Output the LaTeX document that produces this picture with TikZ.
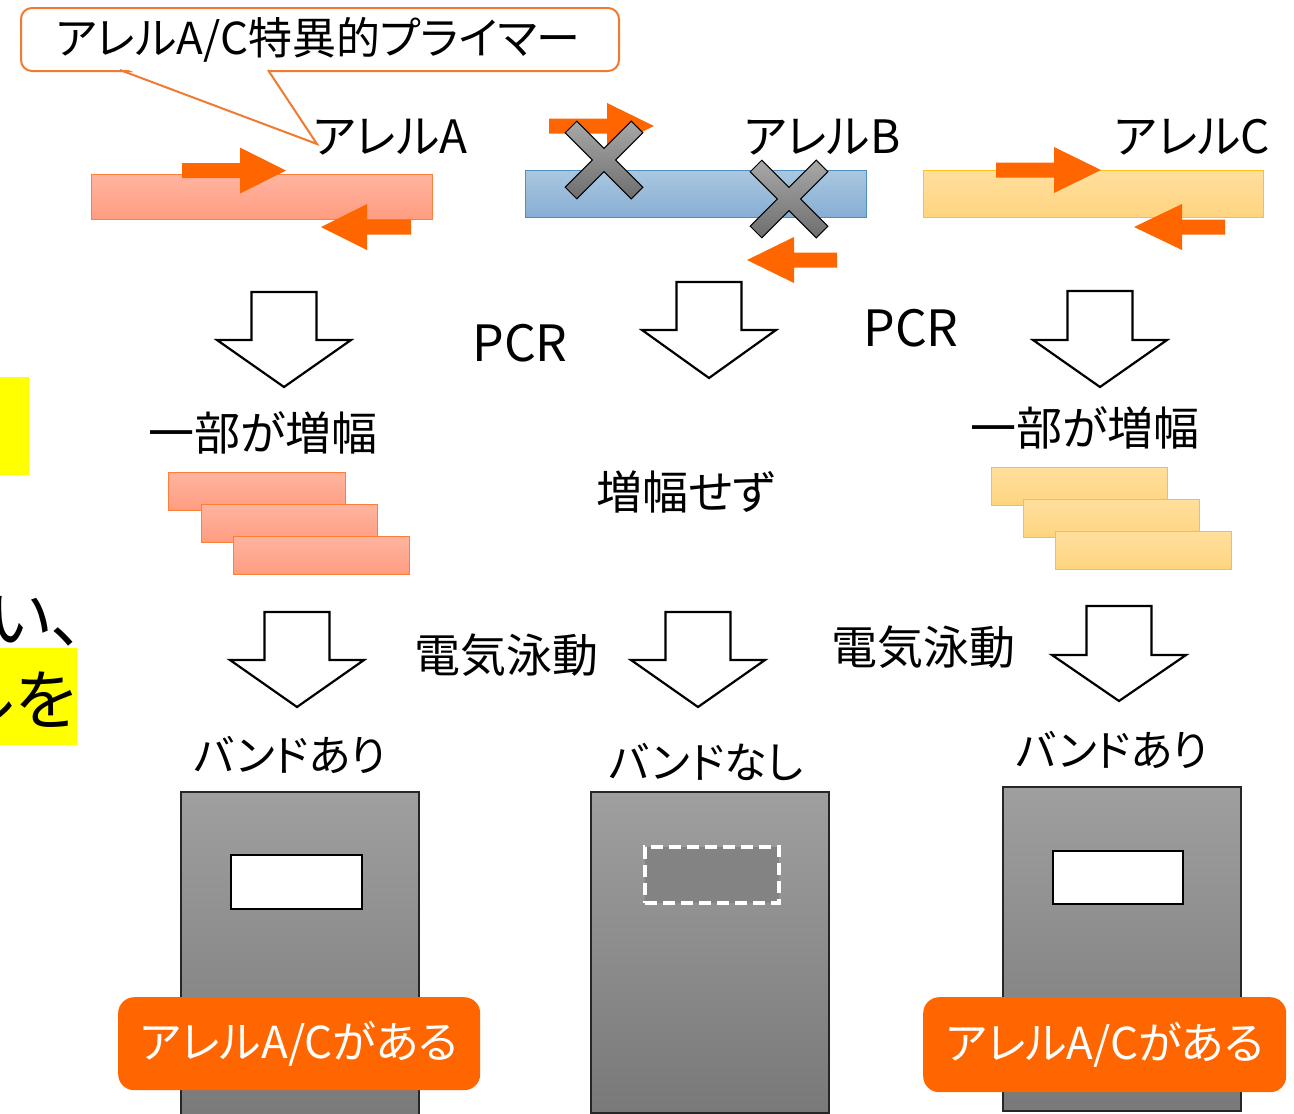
\documentclass[tikz,border=0pt]{standalone}
\usepackage{fontspec}
\setmainfont{Noto Sans CJK JP}[RawFeature={+palt}]
\usetikzlibrary{calc}
\definecolor{primer}{HTML}{FF6600}
\definecolor{calloutBorder}{HTML}{F07A30}
\definecolor{aTop}{HTML}{FFB4A0}
\definecolor{aBot}{HTML}{FF9C80}
\definecolor{aBorder}{HTML}{FF7E3A}
\definecolor{bTop}{HTML}{AAC7E0}
\definecolor{bBot}{HTML}{86AED3}
\definecolor{bBorder}{HTML}{4F8DC2}
\definecolor{cTop}{HTML}{FFDF9E}
\definecolor{cBot}{HTML}{FFD47F}
\definecolor{cBorder}{HTML}{FFC21A}
\definecolor{xTop}{HTML}{A8A8A8}
\definecolor{xBot}{HTML}{6E6E6E}
\definecolor{gelTop}{HTML}{9F9F9F}
\definecolor{gelBot}{HTML}{797979}
\definecolor{nobandFill}{HTML}{838383}
\definecolor{hilite}{HTML}{FFFF00}
\newcommand{\boxnode}[6]{\node[#1, inner sep=0pt, minimum width=#4, minimum height=#5, anchor=north west] (#6) at (#2,#3) {};}
\newcommand{\primerarrow}[4]{\fill[primer] (#1,{#4-7.5}) -- (#2,{#4-7.5}) -- (#2,{#4-23}) -- (#3,#4) -- (#2,{#4+23}) -- (#2,{#4+7.5}) -- (#1,{#4+7.5}) -- cycle;}
\newcommand{\hollowarrow}[4]{\draw[hollow] ({#1-32.5},#2) -- ({#1+32.5},#2) -- ({#1+32.5},#3) -- ({#1+67},#3) -- (#1,#4) -- ({#1-67},#3) -- ({#1-32.5},#3) -- cycle;}
\newcommand{\crossmark}[2]{\begin{scope}[shift={(#1,#2)}, rotate=45]
\draw[xfill] (46.7,8.25) -- (8.25,8.25) -- (8.25,46.7) -- (-8.25,46.7) -- (-8.25,8.25) -- (-46.7,8.25) -- (-46.7,-8.25) -- (-8.25,-8.25) -- (-8.25,-46.7) -- (8.25,-46.7) -- (8.25,-8.25) -- (46.7,-8.25) -- cycle;
\end{scope}}
\begin{document}
\begin{tikzpicture}[x=1pt,y=-1pt,
  lbl/.style={inner sep=0pt, font=\fontsize{46}{52}\selectfont},
  bandlbl/.style={inner sep=0pt, font=\fontsize{43}{50}\selectfont},
  pcrlbl/.style={inner sep=0pt, font=\fontsize{50}{56}\selectfont},
  big/.style={inner sep=0pt, font=\fontsize{66}{72}\selectfont},
  allA/.style={draw=aBorder, line width=1.3, top color=aTop, bottom color=aBot},
  allB/.style={draw=bBorder, line width=1.3, top color=bTop, bottom color=bBot},
  allC/.style={draw=cBorder, line width=1.3, top color=cTop, bottom color=cBot},
  hollow/.style={draw=black, line width=2.2, fill=white, line join=miter},
  xfill/.style={draw=black, line width=1, top color=xTop, bottom color=xBot},
  gel/.style={draw=black!85, line width=1.5, top color=gelTop, bottom color=gelBot},
  band/.style={draw=black, line width=2.2, fill=white},
  noband/.style={draw=white, line width=4, dash pattern=on 12 off 6, fill=nobandFill},
  result/.style={fill=primer, rounded corners=16},
  resulttext/.style={inner sep=0pt, text=white, font=\fontsize{44}{50}\selectfont},
  callout/.style={draw=calloutBorder, line width=2, fill=white, rounded corners=11},
  hl/.style={fill=hilite}
]
\useasboundingbox (0,0) rectangle (1294,1114);

% left edge fragments (cut off by the page edge, as in the reference)
\fill[hl] (0,377) rectangle (29,475);
\fill[hl] (0,648) rectangle (77,745);
\begin{scope}
\clip (0,0) rectangle (1294,1114);
\node[big, anchor=east] (frag1) at (84,621) {い、};
\node[big, anchor=east] (frag2) at (76,700) {ルを};
\end{scope}

% callout
\boxnode{callout}{20}{7}{598}{63}{call}
\coordinate (pl) at (120,70);
\coordinate (pr) at (268,70);
\coordinate (ptip) at (317,144);
\fill[white] (121,67) -- (267,67) -- (ptip) -- cycle;
\draw[calloutBorder, line width=2, line join=miter] (pl) -- (ptip) -- (pr);
\node[inner sep=0pt, font=\fontsize{44}{50}\selectfont] (calltext) at (318,40) {アレルA/C特異的プライマー};

% alleles
\boxnode{allA}{91}{174}{341}{45}{barA}
\boxnode{allB}{525}{170}{341}{47}{barB}
\boxnode{allC}{923}{170}{340}{47}{barC}
\node[lbl] (labA) at (390,137) {アレルA};
\node[lbl] (labB) at (822,137) {アレルB};
\node[lbl] (labC) at (1192,137) {アレルC};

\primerarrow{182}{240}{286}{170.5}
\primerarrow{411}{367}{321}{227}
\primerarrow{549}{607}{654}{126}
\primerarrow{837}{794}{747}{260}
\primerarrow{996}{1054}{1101}{170}
\primerarrow{1225}{1182}{1134}{227}

\crossmark{604}{160}
\crossmark{789}{199}

% PCR arrows
\hollowarrow{284}{292}{340}{387}
\hollowarrow{709}{282}{330}{378}
\hollowarrow{1100}{291}{340}{387}
\node[pcrlbl] (pcr1) at (520,343) {PCR};
\node[pcrlbl] (pcr2) at (911,328) {PCR};

% amplification results
\node[lbl] (ampA) at (263,433) {一部が増幅};
\node[lbl] (ampC) at (1085,428) {一部が増幅};
\node[lbl] (ampB) at (686,492) {増幅せず};
\boxnode{allA}{168}{472}{177}{38}{fA1}
\boxnode{allA}{201}{504}{176}{38}{fA2}
\boxnode{allA}{233}{536}{176}{38}{fA3}
\boxnode{allC}{991}{467}{176}{38}{fC1}
\boxnode{allC}{1023}{499}{176}{38}{fC2}
\boxnode{allC}{1055}{531}{176}{38}{fC3}

% electrophoresis arrows
\hollowarrow{297}{612}{660}{707}
\hollowarrow{698}{612}{660}{707}
\hollowarrow{1119}{606}{655}{701}
\node[lbl] (ep1) at (506,655) {電気泳動};
\node[lbl] (ep2) at (923,647) {電気泳動};

% band labels
\node[bandlbl] (bandlabA) at (290,755) {バンドあり};
\node[bandlbl] (bandlabB) at (706,762) {バンドなし};
\node[bandlbl] (bandlabC) at (1112,750) {バンドあり};

% gels
\boxnode{gel}{180}{791}{238}{330}{gelA}
\boxnode{gel}{590}{791}{238}{321}{gelB}
\boxnode{gel}{1002}{786}{238}{324}{gelC}
\boxnode{band}{230}{854}{131}{54}{bandA}
\boxnode{noband}{643}{845}{134}{56}{bandB}
\boxnode{band}{1052}{850}{130}{53}{bandC}

% result labels
\boxnode{result}{118}{997}{362}{93}{resA}
\boxnode{result}{923}{997}{363}{95}{resC}
\node[resulttext] (resAtext) at (resA.center) {アレルA/Cがある};
\node[resulttext] (resCtext) at (resC.center) {アレルA/Cがある};
\end{tikzpicture}
\end{document}
